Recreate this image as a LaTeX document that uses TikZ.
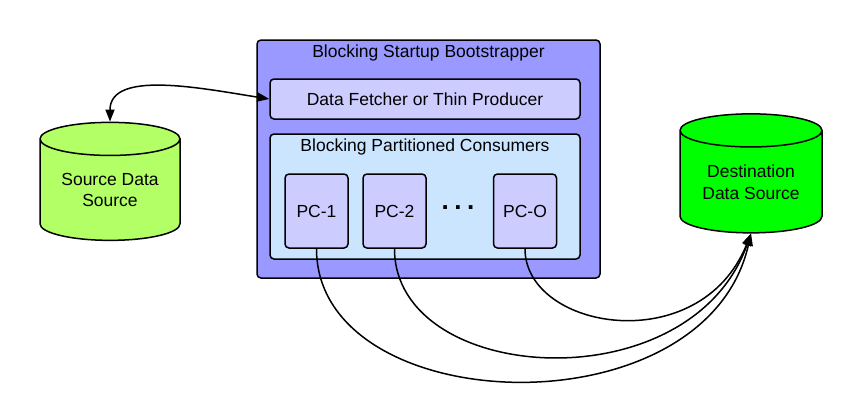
\documentclass[tikz,border=0pt]{standalone}
\usepackage{fontspec}
\setmainfont{Liberation Sans}
\usetikzlibrary{shapes.geometric,arrows.meta}

\definecolor{bootblue}{RGB}{153,153,255}
\definecolor{partlilac}{RGB}{204,204,255}
\definecolor{consblue}{RGB}{204,229,255}
\definecolor{srcgreen}{RGB}{178,255,102}
\definecolor{dstgreen}{RGB}{0,255,0}

\begin{document}
\begin{tikzpicture}[x=1pt,y=-1pt,
  font=\fontsize{17.5}{21.5}\selectfont,
  >={Triangle[length=12pt,width=9pt]},
  box/.style={draw, line width=1.5pt, rounded corners=4pt, inner sep=0pt},
  db/.style={draw, line width=1.5pt, cylinder, shape border rotate=90, aspect=0.34, align=center, inner sep=0pt},
  wire/.style={line width=1.5pt}]
\useasboundingbox (0,0) rectangle (860,410);

% bootstrapper
\node[box, fill=bootblue, minimum width=343pt, minimum height=238pt] (boot) at (428.5,159) {};
\node (boottitle) at (428.5,53) {Blocking Startup Bootstrapper};
\node[box, fill=partlilac, minimum width=310pt, minimum height=40pt] (fetch) at (425,99) {Data Fetcher or Thin Producer};
\node[box, fill=consblue, minimum width=310pt, minimum height=125pt] (cons) at (425,196.5) {};
\node (constitle) at (425,147) {Blocking Partitioned Consumers};

% partitioned consumers
\foreach \name/\x in {1/316.5, 2/394.5, O/525}{
  \node[box, fill=partlilac, minimum width=63pt, minimum height=74pt] (pc\name) at (\x,211) {PC-\name};
}
\node[font=\fontsize{26}{26}\selectfont\bfseries, inner sep=0pt] (dots) at (458,208) {.\hspace{5.5pt}.\hspace{5.5pt}.};

% data sources
\node[db, fill=srcgreen, minimum width=140pt, minimum height=118pt] (src) at (110,190) {Source Data\\Source};
\node[db, fill=dstgreen, minimum width=142pt, minimum height=119pt] (dst) at (751,182) {Destination\\Data Source};

% links
\draw[wire, <->] (fetch.west) .. controls (200,88) and (110,70) .. (src.top);
\foreach \name/\xa/\ya/\xb/\yb in {1/316.5/420/705/435, 2/394.5/385/690/405, O/525/330/700/360}
  \draw[wire, ->] (pc\name.south) .. controls (\xa,\ya) and (\xb,\yb) .. (dst.bottom);
\end{tikzpicture}
\end{document}
